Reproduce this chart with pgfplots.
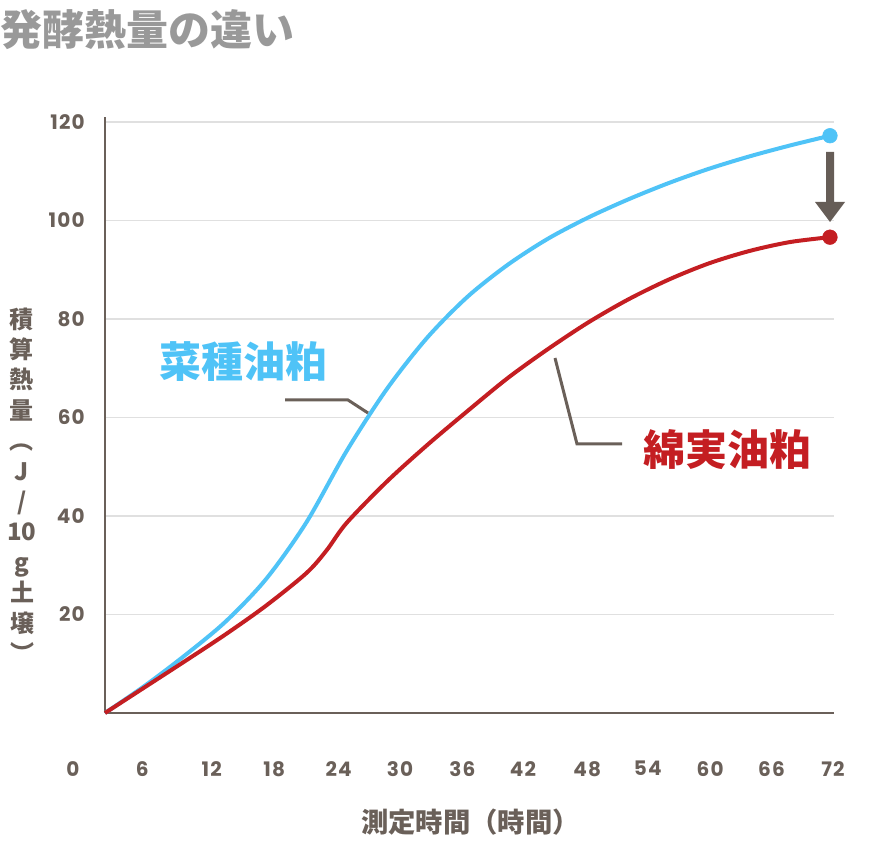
\documentclass[border=0pt]{standalone}
\usepackage{fontspec}
\usepackage{pgfplots}
\pgfplotsset{compat=1.18}
\setmainfont{Noto Sans CJK JP}
\newfontfamily\cjk{Noto Sans CJK JP}
\newfontfamily\numfont[LetterSpace=6]{Poppins}
\definecolor{axisgray}{HTML}{6A6059}
\definecolor{titlegray}{HTML}{999999}
\definecolor{gridgray}{HTML}{E0E0E0}
\definecolor{sblue}{HTML}{4FC3F7}
\definecolor{sred}{HTML}{C41E22}
\definecolor{arrowgray}{HTML}{665D57}
\begin{document}
\begin{tikzpicture}
\begin{axis}[
  at={(78.75pt,-534.75pt)}, anchor=south west,
  scale only axis, width=546.75pt, height=447pt,
  xmin=0, xmax=72.4, ymin=0, ymax=121,
  axis x line*=bottom, axis y line*=left,
  axis line style={draw=axisgray, line width=1.5pt, -},
  xtick={3.7,10.6,16.8,23.2,29.3,35.5,41.5,47.9,53.9,60.1,66.2,72.3},
  xticklabels={6,12,18,24,30,36,42,48,54,60,66,72},
  ytick={20,40,60,80,100,120},
  ymajorgrids, grid style={draw=gridgray, line width=1.2pt},
  major tick length=0pt,
  tick label style={font=\numfont\bfseries\fontsize{15}{18}\selectfont, text=axisgray, inner sep=0pt},
  xticklabel style={anchor=north, yshift=-36pt},
  yticklabel style={anchor=east, xshift=-15pt},
  /pgf/number format/assume math mode=true,
  clip=false,
]
\addplot[sblue, line width=3pt, smooth] coordinates {
(0,0)(4,5.6)(8,11.8)(12,18.6)(16,27.2)(20,38.7)(24,53.2)(28,65.8)(32,76.2)(36,84.5)(40,91.0)(44,96.3)(48,100.6)(52,104.3)(56,107.6)(60,110.5)(64,113.0)(68,115.2)(72,117.2)};
\addplot[sred, line width=3pt, smooth] coordinates {
(0,0)(4,5.3)(8,10.6)(12,16.0)(16,21.8)(20,28.4)(22,33.0)(24,38.6)(28,47.0)(32,54.4)(36,61.3)(40,68.0)(44,73.9)(48,79.3)(52,84.0)(56,88.0)(60,91.3)(64,93.8)(68,95.6)(72,96.6)};
\addplot[only marks, mark=*, mark size=5.5pt, sblue] coordinates {(72,117.2)};
\addplot[only marks, mark=*, mark size=5.5pt, sred] coordinates {(72,96.6)};
\node[font=\numfont\bfseries\fontsize{15}{18}\selectfont, text=axisgray, inner sep=0pt, anchor=north, yshift=-36pt] at (axis cs:-3.2,0) {0};
\end{axis}
\begin{scope}[x=0.75pt, y=-0.75pt]
\path[use as bounding box] (0,0) rectangle (875,841);
\node[anchor=west, inner sep=0pt, text=titlegray, font=\cjk\bfseries\fontsize{31.5}{34}\selectfont] at (0,30) {発酵熱量の違い};
\node[align=center, inner sep=0pt, text=axisgray, font=\cjk\bfseries\fontsize{18}{22.8}\selectfont] at (22,485) {積\\算\\熱\\量\\︵\\J\\/\\10\\g\\土\\壌\\︶};
\node[anchor=west, inner sep=0pt, text=axisgray, font=\cjk\bfseries\fontsize{20.5}{24}\selectfont] at (361,822) {測定時間（時間）};
\node[inner sep=0pt, text=sblue, font=\cjk\bfseries\fontsize{31.5}{34}\selectfont] at (243,362) {菜種油粕};
\node[inner sep=0pt, text=sred, font=\cjk\bfseries\fontsize{31.5}{34}\selectfont] at (727,450) {綿実油粕};
\draw[axisgray, line width=2.25pt] (285,400) -- (348,400) -- (368,413);
\draw[axisgray, line width=2.25pt] (555,358) -- (577,444) -- (622,444);
\fill[arrowgray] (826,152) -- (834,152) -- (834,202) -- (845,202) -- (830,222) -- (815,202) -- (826,202) -- cycle;
\end{scope}
\end{tikzpicture}
\end{document}
